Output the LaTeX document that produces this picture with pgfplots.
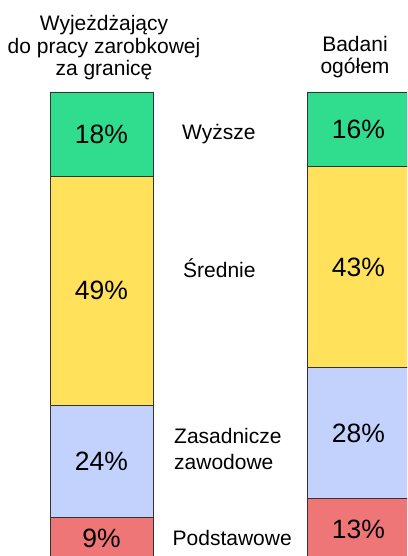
\documentclass[border=0pt]{standalone}
\usepackage{pgfplots}
\pgfplotsset{compat=1.18}
\usepackage{fontspec}
\setmainfont{Liberation Sans}
\definecolor{cgreen}{HTML}{30DC8E}
\definecolor{cyellow}{HTML}{FFE15C}
\definecolor{cblue}{HTML}{C2D2FC}
\definecolor{cred}{HTML}{EE7676}
\definecolor{cedge}{HTML}{333333}
\pgfplotsset{base/.style={
  scale only axis, x=1pt, y=4.675pt,
  xmin=0, xmax=407, ymin=0.75, ymax=119.68,
  hide axis, at={(0,0)}, anchor=south west}}
\begin{document}
\begin{tikzpicture}
\begin{axis}[base,
  ybar stacked,
  bar width=103,
]
\addplot[fill=cred, draw=cedge, line width=0.9pt] coordinates {(101.5,9) (358.5,13)};
\addplot[fill=cblue, draw=cedge, line width=0.9pt] coordinates {(101.5,24) (358.5,28)};
\addplot[fill=cyellow, draw=cedge, line width=0.9pt] coordinates {(101.5,49) (358.5,43)};
\addplot[fill=cgreen, draw=cedge, line width=0.9pt] coordinates {(101.5,18) (358.5,16)};
\end{axis}
\begin{axis}[base,
  nodes near coords,
  point meta=explicit symbolic,
  every node near coord/.append style={anchor=center, font=\fontsize{26.5}{28}\selectfont, text=black, inner sep=0pt},
]
\addplot[draw=none, no marks] coordinates {
  (101.5,4.5) [9\%] (101.5,21) [24\%] (101.5,57.5) [49\%] (101.5,91) [18\%]
  (358.5,6.5) [13\%] (358.5,27) [28\%] (358.5,62.5) [43\%] (358.5,92) [16\%]
};
\end{axis}
\begin{scope}[shift={(0pt,556pt)}, every node/.style={font=\fontsize{21}{23}\selectfont, inner sep=0pt}]
\node[anchor=base] at (104pt,-30.7pt) {Wyjeżdżający};
\node[anchor=base] at (104pt,-53.5pt) {do pracy zarobkowej};
\node[anchor=base] at (104pt,-76pt) {za granicę};
\node[anchor=base] at (355pt,-51.7pt) {Badani};
\node[anchor=base] at (355pt,-74pt) {ogółem};
\node[anchor=base west] at (182pt,-140pt) {Wyższe};
\node[anchor=base west] at (183pt,-277.3pt) {Średnie};
\node[anchor=base west] at (174pt,-444pt) {Zasadnicze};
\node[anchor=base west] at (174pt,-469.3pt) {zawodowe};
\node[anchor=base west] at (172.5pt,-546pt) {Podstawowe};
\end{scope}
\pgfresetboundingbox
\useasboundingbox (0pt,0pt) rectangle (407pt,556pt);
\end{tikzpicture}
\end{document}
